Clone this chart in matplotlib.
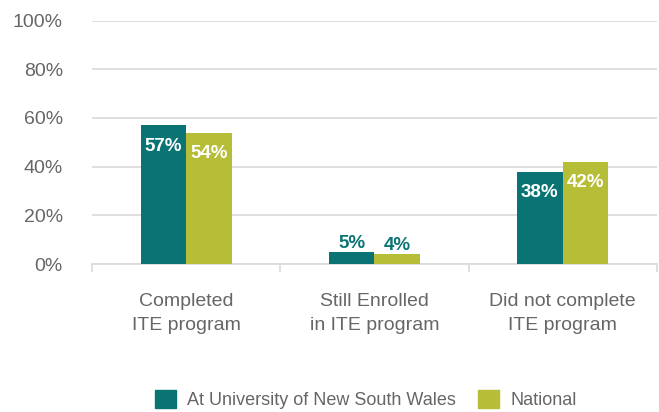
import matplotlib
matplotlib.use("Agg")
import matplotlib.pyplot as plt
import numpy as np
from matplotlib.patches import Patch

# --- DATA ---------------------------------------------------------------------
categories = ["Completed\nITE program", "Still Enrolled\nin ITE program", "Did not complete\nITE program"]
unsw       = [57, 5, 38]
national   = [54, 4, 42]
series     = ["At University of New South Wales", "National"]

# --- STYLE --------------------------------------------------------------------
TEAL  = "#0a7373"
OLIVE = "#b6bd37"
GREY  = "#666666"
GRID  = "#d9d9d9"
plt.rcParams["font.family"] = ["Liberation Sans", "DejaVu Sans"]

fig = plt.figure(figsize=(6.59, 4.12), dpi=100)
ax  = fig.add_axes([0.1396, 0.359, 0.857, 0.591])

x = np.arange(len(categories))
w = 0.242

b1 = ax.bar(x - w / 2, unsw, w, color=TEAL, zorder=3)
b2 = ax.bar(x + w / 2, national, w, color=OLIVE, zorder=3)

# --- VALUE LABELS -------------------------------------------------------------
for bars in (b1, b2):
    for rect in bars:
        h  = rect.get_height()
        cx = rect.get_x() + rect.get_width() / 2
        if h >= 10:
            ax.annotate(f"{h:.0f}%", (cx, h), xytext=(0, -9), textcoords="offset points",
                        ha="center", va="top", color="white", fontsize=13.5, fontweight="bold")
        else:
            ax.annotate(f"{h:.0f}%", (cx, h), xytext=(0, 0), textcoords="offset points",
                        ha="center", va="bottom", color=TEAL, fontsize=13.5, fontweight="bold")

# --- AXES ---------------------------------------------------------------------
ax.set_xlim(-0.5, 2.5)
ax.set_ylim(0, 100)
ax.set_yticks(range(0, 101, 20))
ax.set_yticklabels([f"{v}%" for v in range(0, 101, 20)], color=GREY, fontsize=14)
ax.yaxis.grid(True, color=GRID, linewidth=1.2, zorder=0)
ax.tick_params(axis="y", length=0, pad=21)

ax.set_xticks(x)
ax.set_xticklabels(categories, color=GREY, fontsize=14, linespacing=1.5)
ax.tick_params(axis="x", length=0, pad=21)
ax.set_xticks([-0.5, 0.5, 1.5, 2.5], minor=True)
ax.tick_params(axis="x", which="minor", length=6, color=GRID, width=1.2)

for s in ["top", "right", "left"]:
    ax.spines[s].set_visible(False)
ax.spines["bottom"].set_color(GRID)
ax.spines["bottom"].set_linewidth(1.2)

# --- LEGEND -------------------------------------------------------------------
handles = [Patch(color=TEAL, label=series[0]), Patch(color=OLIVE, label=series[1])]
fig.legend(handles=handles, loc="center", bbox_to_anchor=(0.555, 0.03), ncol=2,
           frameon=False, fontsize=13, labelcolor=GREY, handlelength=1.2, handleheight=1.2,
           columnspacing=1.2, handletextpad=0.6)

plt.savefig("out.png", dpi=100)
